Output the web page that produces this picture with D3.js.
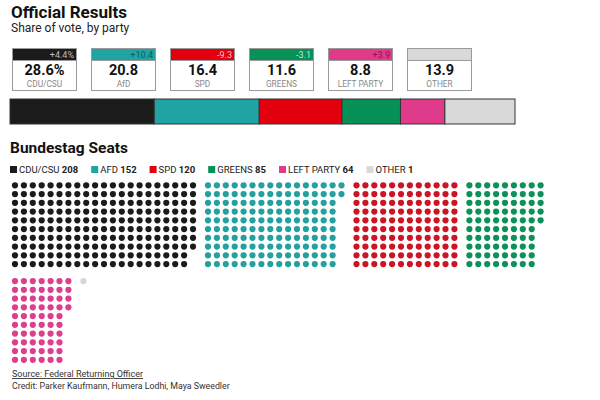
<!DOCTYPE html>
<html>
<head>
<meta charset="utf-8">
<script src="https://cdn.jsdelivr.net/npm/d3@7"></script>
<style>
  body { margin: 0; background: #fff; }
  svg { font-family: Roboto, "Liberation Sans", sans-serif; }
</style>
</head>
<body>
<div id="chart"></div>
<script>
const parties = ["CDU/CSU", "AfD", "SPD", "GREENS", "LEFT PARTY", "OTHER"];
const legendNames = ["CDU/CSU", "AFD", "SPD", "GREENS", "LEFT PARTY", "OTHER"];
const share = [28.6, 20.8, 16.4, 11.6, 8.8, 13.9];
const shareLabels = ["28.6%", "20.8", "16.4", "11.6", "8.8", "13.9"];
const change = ["+4.4%", "+10.4", "-9.3", "-3.1", "+3.9", ""];
const seats = [208, 152, 120, 85, 64, 1];

const colors = ["#1b1b1b", "#1fa3a3", "#e2000f", "#079157", "#e03a8b", "#d9d9d9"];
const dotColors = ["#1b1b1b", "#24a0a0", "#cc1424", "#0c9159", "#dc3f8c", "#d6d6d6"];
const changeText = ["#bbbbbb", "#0b5f5f", "#ffc2c2", "#bfe8d2", "#8a1450", "#999"];

const width = 600, height = 400;
const svg = d3.select("#chart").append("svg")
    .attr("width", width)
    .attr("height", height);

// titles
svg.append("text")
    .attr("x", 11).attr("y", 18)
    .style("font-size", "17px").style("font-weight", "bold").style("fill", "#111")
    .text("Official Results");
svg.append("text")
    .attr("x", 11).attr("y", 32)
    .style("font-size", "12px").style("fill", "#222")
    .text("Share of vote, by party");

// result boxes
const boxX = d3.scaleBand()
    .domain(parties)
    .range([12, 12 + 79 * 6])
    .padding(0);
const bw = 64;

const box = svg.selectAll("g.box")
    .data(parties)
    .enter()
    .append("g")
    .attr("class", "box")
    .attr("transform", d => `translate(${boxX(d)},48)`);

box.append("rect")
    .attr("x", 0.5).attr("y", 0.5)
    .attr("width", bw).attr("height", 42)
    .attr("fill", "#fff")
    .attr("stroke", "#9a9a9a");

box.append("rect")
    .attr("x", 0.5).attr("y", 0.5)
    .attr("width", bw).attr("height", 12)
    .attr("fill", (d, i) => colors[i])
    .attr("stroke", "#9a9a9a");

box.append("text")
    .attr("x", bw - 2).attr("y", 10)
    .attr("text-anchor", "end")
    .style("font-size", "9px")
    .style("fill", (d, i) => changeText[i])
    .text((d, i) => change[i]);

box.append("text")
    .attr("x", bw / 2 + 0.5).attr("y", 26.5)
    .attr("text-anchor", "middle")
    .style("font-size", "14.5px").style("font-weight", "bold").style("fill", "#111")
    .text((d, i) => shareLabels[i]);

box.append("text")
    .attr("x", bw / 2 + 0.5).attr("y", 39.3)
    .attr("text-anchor", "middle")
    .style("font-size", "8.3px").style("fill", "#888")
    .text(d => d);

// stacked share bar
const total = d3.sum(share);
const x = d3.scaleLinear().domain([0, total]).range([10, 515]);
const cum = d3.cumsum(share);

svg.selectAll("rect.seg")
    .data(share)
    .enter()
    .append("rect")
    .attr("class", "seg")
    .attr("x", (d, i) => x(cum[i] - d))
    .attr("y", 99)
    .attr("width", (d, i) => x(cum[i]) - x(cum[i] - d))
    .attr("height", 25)
    .attr("fill", (d, i) => colors[i])
    .attr("stroke", "#333")
    .attr("stroke-width", 1);

// seats
svg.append("text")
    .attr("x", 10).attr("y", 153)
    .style("font-size", "15.5px").style("font-weight", "bold").style("fill", "#111")
    .text("Bundestag Seats");

let lx = 10;
legendNames.forEach((name, i) => {
    const g = svg.append("g").attr("transform", `translate(${lx},166)`);
    g.append("rect").attr("width", 7).attr("height", 7).attr("fill", colors[i]);
    const t = g.append("text")
        .attr("x", 9).attr("y", 7.3)
        .style("font-size", "9.5px").style("fill", "#222");
    t.append("tspan").text(name + " ");
    t.append("tspan").style("font-weight", "bold").text(seats[i]);
    lx += 9 + t.node().getComputedTextLength() + 13;
});

// dot blocks
const rows = 10, pitchX = 8.9, pitchY = 8.75, gap = 15, maxX = 590;
const rowY = d3.scaleLinear().domain([0, rows - 1]).range([0, (rows - 1) * pitchY]);
const colX = d3.scaleLinear().domain([0, 1]).range([0, pitchX]);

let bx = 15, by = 185.3;
seats.forEach((n, i) => {
    const cols = Math.ceil(n / rows);
    const w = colX(cols - 1);
    if (bx + w > maxX) {
        bx = 15;
        by += rowY(rows - 1) + 17;
    }
    const dots = d3.range(n);
    svg.append("g")
        .attr("transform", `translate(${bx},${by})`)
        .selectAll("circle")
        .data(dots)
        .enter()
        .append("circle")
        .attr("cx", d => colX(Math.floor(d / rows)))
        .attr("cy", d => rowY(d % rows))
        .attr("r", 3.1)
        .attr("fill", dotColors[i]);
    bx += w + gap;
});

// footer
svg.append("text")
    .attr("x", 12).attr("y", 377)
    .style("font-size", "9px").style("fill", "#333")
    .style("text-decoration", "underline")
    .text("Source: Federal Returning Officer");
svg.append("text")
    .attr("x", 12).attr("y", 389)
    .style("font-size", "8.8px").style("fill", "#333")
    .text("Credit: Parker Kaufmann, Humera Lodhi, Maya Sweedler");
</script>
</body>
</html>
